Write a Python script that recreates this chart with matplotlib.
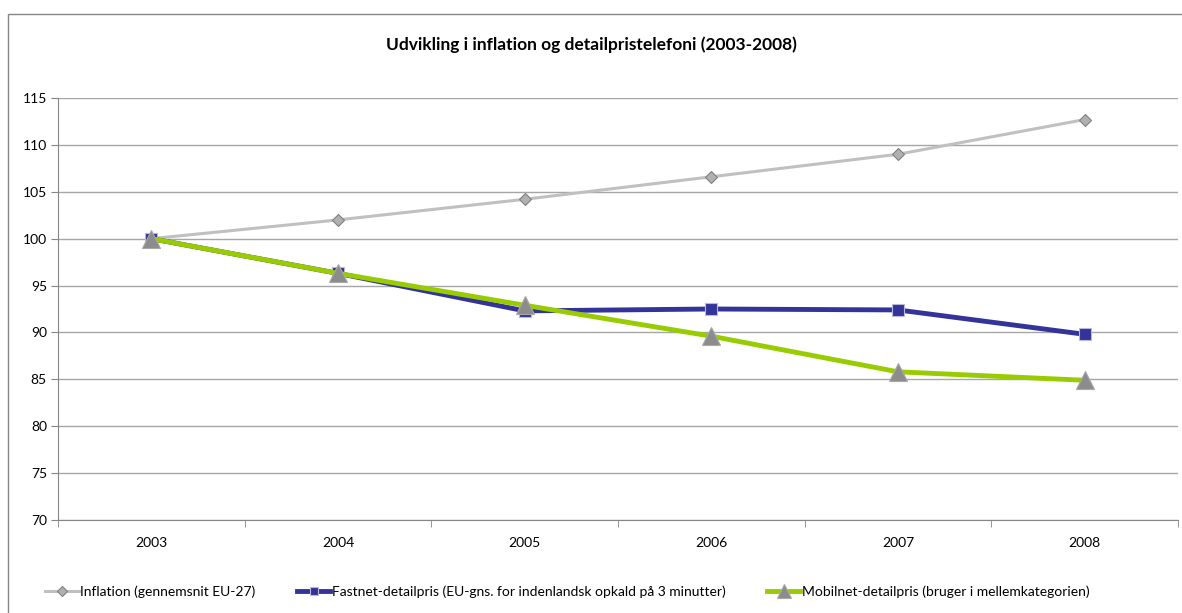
import matplotlib
matplotlib.use("Agg")
import matplotlib.pyplot as plt
import matplotlib.patches as patches

plt.rcParams['font.family'] = ['Lato', 'DejaVu Sans']

years = ['2003', '2004', '2005', '2006', '2007', '2008']
inflation = [100.0, 102.0, 104.2, 106.6, 109.0, 112.7]
fastnet = [100.0, 96.3, 92.3, 92.5, 92.4, 89.8]
mobilnet = [100.0, 96.3, 92.9, 89.6, 85.8, 84.9]

labels = ['Inflation (gennemsnit EU-27)',
          'Fastnet-detailpris (EU-gns. for indenlandsk opkald på 3 minutter)',
          'Mobilnet-detailpris (bruger i mellemkategorien)']
title = 'Udvikling i inflation og detailpristelefoni (2003-2008)'

fig = plt.figure(figsize=(11.82, 6.13), dpi=100)
ax = fig.add_axes([58/1182, 1-520/613, 1120/1182, 422/613])

x = list(range(len(years)))
ax.plot(x, inflation, color='#C0C0C0', lw=2.2, marker='D', ms=6.5,
        mfc='#B0B0B0', mec='#808080', mew=0.8, label=labels[0], zorder=3)
ax.plot(x, fastnet, color='#333399', lw=3.5, marker='s', ms=8,
        mfc='#333399', mec='#B8B8D8', mew=0.8, label=labels[1], zorder=4)
ax.plot(x, mobilnet, color='#99CC00', lw=3.5, marker='^', ms=13,
        mfc='#8C8C8C', mec='#A8A8A8', mew=0.8, label=labels[2], zorder=5)

ax.set_xlim(-0.5, len(years) - 0.5)
ax.set_ylim(70, 115)
ax.set_yticks(range(70, 116, 5))
ax.set_xticks(x)
ax.set_xticklabels(years)
ax.set_xticks([i + 0.5 for i in x[:-1]] + [-0.5, len(years) - 0.5], minor=True)
ax.tick_params(axis='x', which='major', length=0, pad=12, labelsize=10)
ax.tick_params(axis='x', which='minor', length=5, color='#868686')
ax.tick_params(axis='y', length=5, color='#868686', labelsize=10, pad=3)
ax.yaxis.grid(True, color='#A6A6A6', lw=1)
ax.set_axisbelow(True)
for s in ['top', 'right']:
    ax.spines[s].set_visible(False)
for s in ['left', 'bottom']:
    ax.spines[s].set_color('#868686')

fig.text(0.5, 1-45/613, title, ha='center', va='center', fontsize=12.5, fontweight='bold')

fig.legend(loc='center', bbox_to_anchor=(0.48, 1-592/613), ncol=3, frameon=False,
           fontsize=10, handlelength=2.4, handletextpad=0.1, columnspacing=3.0,
           markerscale=0.75)

fig.patches.append(patches.Rectangle((8/1182, -0.01), 1.1, 1-14/613 + 0.01,
                                     transform=fig.transFigure, fill=False,
                                     edgecolor='#868686', lw=1))

fig.savefig('out.png', dpi=100)
